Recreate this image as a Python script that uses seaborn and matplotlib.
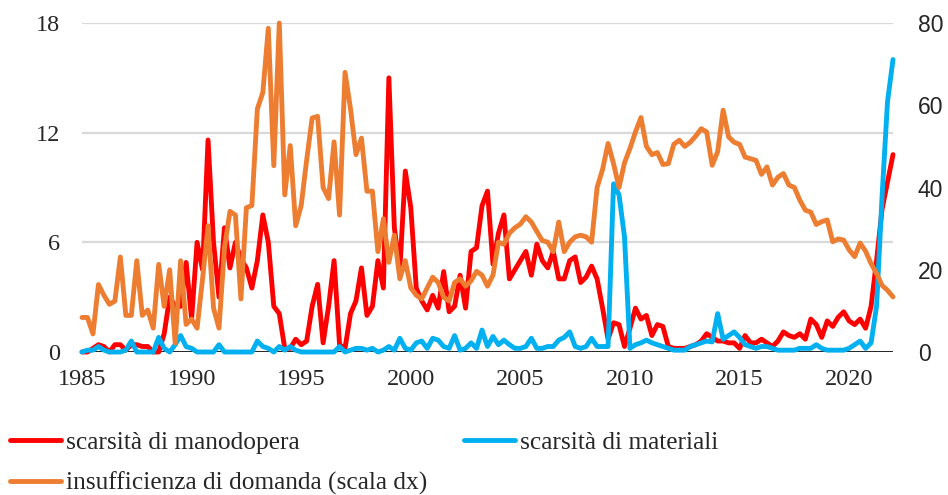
import numpy as np
import pandas as pd
import seaborn as sns
import matplotlib.pyplot as plt

# quarterly values, 1985Q1 - 2022Q1 (one row of 4 per year)
manodopera = [
    0.0, 0.0, 0.2, 0.4,
    0.3, 0.0, 0.4, 0.4,
    0.1, 0.4, 0.4, 0.3,
    0.3, 0.0, 0.0, 1.0,
    3.0, 2.5, 2.5, 4.9,
    1.8, 6.0, 4.5, 11.6,
    6.0, 3.0, 6.8, 4.6,
    6.0, 5.1, 4.6, 3.5,
    5.0, 7.5, 6.0, 2.5,
    2.1, 0.2, 0.2, 0.7,
    0.4, 0.6, 2.5, 3.7,
    0.5, 2.5, 5.0, 0.4,
    0.2, 2.1, 2.8, 4.6,
    2.0, 2.5, 5.0, 3.5,
    15.0, 6.8, 4.5, 9.9,
    7.9, 3.5, 2.8, 2.3,
    3.1, 2.4, 4.4, 2.2,
    2.5, 4.2, 2.4, 5.5,
    5.7, 8.0, 8.8, 4.8,
    6.5, 7.5, 4.0, 4.5,
    5.0, 5.5, 4.2, 5.9,
    5.0, 4.6, 5.5, 4.0,
    4.0, 5.0, 5.2, 3.8,
    4.1, 4.7, 4.0, 2.4,
    0.7, 1.6, 1.5, 0.3,
    1.3, 2.4, 1.8, 2.0,
    0.9, 1.5, 1.4, 0.3,
    0.2, 0.2, 0.2, 0.3,
    0.4, 0.6, 1.0, 0.8,
    0.6, 0.6, 0.5, 0.5,
    0.2, 0.9, 0.5, 0.5,
    0.7, 0.5, 0.3, 0.6,
    1.1, 0.9, 0.8, 1.0,
    0.7, 1.8, 1.5, 0.8,
    1.7, 1.4, 1.9, 2.2,
    1.7, 1.5, 1.8, 1.3,
    2.5, 5.0, 7.8, 9.3,
    10.8,
]

materiali = [
    0.0, 0.1, 0.1, 0.3,
    0.1, 0.0, 0.0, 0.0,
    0.1, 0.6, 0.0, 0.0,
    0.0, 0.0, 0.8, 0.2,
    0.0, 0.4, 0.9, 0.3,
    0.2, 0.0, 0.0, 0.0,
    0.0, 0.4, 0.0, 0.0,
    0.0, 0.0, 0.0, 0.0,
    0.6, 0.3, 0.2, 0.0,
    0.3, 0.1, 0.3, 0.1,
    0.0, 0.0, 0.0, 0.0,
    0.0, 0.0, 0.0, 0.3,
    0.0, 0.1, 0.2, 0.2,
    0.1, 0.2, 0.0, 0.1,
    0.3, 0.1, 0.75, 0.2,
    0.1, 0.5, 0.6, 0.2,
    0.75, 0.65, 0.3, 0.2,
    0.9, 0.1, 0.2, 0.5,
    0.2, 1.2, 0.3, 0.85,
    0.4, 0.65, 0.4, 0.2,
    0.2, 0.3, 0.75, 0.2,
    0.2, 0.3, 0.3, 0.65,
    0.8, 1.1, 0.3, 0.2,
    0.3, 0.75, 0.3, 0.3,
    0.3, 9.2, 8.6, 6.3,
    0.2, 0.4, 0.5, 0.65,
    0.5, 0.4, 0.3, 0.2,
    0.1, 0.1, 0.1, 0.3,
    0.4, 0.5, 0.6, 0.55,
    2.1, 0.7, 0.9, 1.1,
    0.8, 0.4, 0.3, 0.2,
    0.3, 0.3, 0.2, 0.1,
    0.1, 0.1, 0.1, 0.2,
    0.2, 0.2, 0.4, 0.2,
    0.1, 0.1, 0.1, 0.1,
    0.2, 0.4, 0.6, 0.2,
    0.5, 2.5, 8.5, 13.7,
    16.0,
]

# scala dx
domanda = [
    8.4, 8.4, 4.4, 16.4,
    13.8, 11.6, 12.4, 23.1,
    8.9, 8.9, 22.2, 8.9,
    10.2, 5.8, 21.3, 11.1,
    20.0, 2.2, 22.2, 6.7,
    8.0, 5.8, 17.8, 30.7,
    10.7, 5.8, 25.3, 34.2,
    33.3, 12.9, 35.1, 35.6,
    59.1, 63.1, 78.7, 45.3,
    80.0, 38.2, 50.2, 30.7,
    35.6, 46.7, 56.9, 57.3,
    40.0, 37.3, 51.1, 33.3,
    68.0, 59.1, 48.0, 52.0,
    39.1, 39.1, 24.4, 32.4,
    21.8, 28.4, 17.8, 22.2,
    15.6, 13.8, 12.9, 15.6,
    18.2, 16.9, 13.3, 12.4,
    16.9, 17.8, 16.0, 17.3,
    19.6, 18.7, 16.0, 18.7,
    26.7, 26.2, 28.9, 30.2,
    31.1, 32.9, 31.6, 29.3,
    27.1, 26.7, 24.4, 31.6,
    24.4, 26.7, 28.0, 28.4,
    28.0, 26.7, 40.0, 44.4,
    50.7, 45.8, 40.0, 46.0,
    49.5, 53.5, 57.0, 50.0,
    48.0, 48.5, 45.6, 45.8,
    50.5, 51.5, 50.0, 51.0,
    52.5, 54.3, 53.5, 45.4,
    48.7, 58.8, 52.3, 51.0,
    50.5, 47.4, 47.0, 46.6,
    43.2, 45.0, 40.6, 42.5,
    43.4, 40.6, 40.0, 36.9,
    34.5, 34.0, 31.0, 31.7,
    32.1, 26.8, 27.5, 27.2,
    24.8, 23.2, 26.5, 24.5,
    21.5, 19.1, 16.2, 15.0,
    13.4,
]

labels = ['scarsità di manodopera', 'scarsità di materiali',
          'insufficienza di domanda (scala dx)']
year_ticks = [1985, 1990, 1995, 2000, 2005, 2010, 2015, 2020]

sns.set_style("white")
plt.rcParams['font.family'] = ['Liberation Serif', 'DejaVu Serif']

t = 1985 + np.arange(len(manodopera)) / 4
df = pd.DataFrame({'t': t, 'manodopera': manodopera,
                   'materiali': materiali, 'domanda': domanda})

fig = plt.figure(figsize=(9.48, 4.95), dpi=100)
ax = fig.add_axes([82/948, 1 - 352/495, (893 - 82)/948, (352 - 23)/495])
ax2 = ax.twinx()

for yv in [6, 12, 18]:
    ax.axhline(yv, color='#D9D9D9', lw=1.6, zorder=0)
ax.axhline(0, color='black', lw=1.2, zorder=1)

sns.lineplot(data=df, x='t', y='manodopera', ax=ax, color='#FF0000', lw=3.5,
             legend=False, clip_on=False)
sns.lineplot(data=df, x='t', y='materiali', ax=ax, color='#00B0F0', lw=3.5,
             legend=False, clip_on=False)
sns.lineplot(data=df, x='t', y='domanda', ax=ax2, color='#ED7D31', lw=3.5,
             legend=False, clip_on=False)

ax.set_xlim(1985, 2022)
ax.set_ylim(0, 18)
ax2.set_ylim(0, 80)
ax.set_xticks(year_ticks)
ax.set_xticklabels([str(y) for y in year_ticks], fontsize=17.5)
ax.set_yticks([0, 6, 12, 18])
ax.set_yticklabels(['0', '6', '12', '18'], fontsize=17.5)
ax2.set_yticks([0, 20, 40, 60, 80])
ax2.set_yticklabels(['0', '20', '40', '60', '80'], fontsize=16.5,
                    family='Liberation Sans')
ax.tick_params(axis='x', length=0, pad=12)
ax.tick_params(axis='y', length=0, pad=16)
ax2.tick_params(axis='y', length=0, pad=18)
for a in (ax, ax2):
    a.set_xlabel('')
    a.set_ylabel('')
    for s in a.spines.values():
        s.set_visible(False)

l_mano, l_mat = ax.lines[-2], ax.lines[-1]
l_dom = ax2.lines[-1]
fig.legend([l_mano, l_dom, l_mat], [labels[0], labels[2], labels[1]],
           loc='upper left', bbox_to_anchor=(10/948, 1 - 431/495), ncol=2,
           frameon=False, fontsize=18.3, handlelength=2.0, handletextpad=0.2,
           columnspacing=1.45, labelspacing=0.72, borderpad=0, borderaxespad=0)

fig.savefig('out.png', dpi=100)
